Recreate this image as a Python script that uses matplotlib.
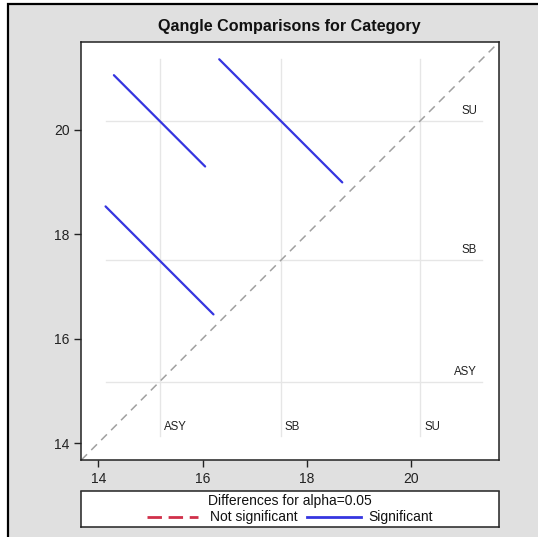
import matplotlib.pyplot as plt
from matplotlib.patches import Rectangle
from matplotlib.lines import Line2D

plt.rcParams['font.family'] = ['Liberation Sans', 'DejaVu Sans']

# LS-means per level (diffogram axes)
levels = ['ASY', 'SB', 'SU']
lsmeans = [15.175, 17.50, 20.175]

# pairwise comparisons: x level, y level, half-width of the CI segment
pair_x = ['ASY', 'SB', 'ASY']
pair_y = ['SU', 'SU', 'SB']
half_width = [0.875, 1.18, 1.035]
significant = [True, True, True]

axis_min, axis_max = 13.675, 21.68
x_ticks = [14, 16, 18, 20]
y_ticks = [14, 16, 18, 20]

W, H = 538, 537
fig = plt.figure(figsize=(W / 100, H / 100), dpi=100)
fig.patch.set_facecolor('white')
fig.patches.append(Rectangle((8 / W, -0.1), 1.2, 1.1 - 4.3 / H, transform=fig.transFigure,
                             facecolor='#E0E0E0', edgecolor='black', lw=1.6, zorder=-5))

fig.text(289.7 / W, 1 - 26 / H, 'Qangle Comparisons for Category', ha='center', va='center',
         fontsize=11.6, fontweight='bold', color='#111111')

ax = fig.add_axes([81.3 / W, 1 - 460 / H, 417.4 / W, 417.7 / H])
ax.set_facecolor('white')
ax.set_xlim(axis_min, axis_max)
ax.set_ylim(axis_min, axis_max)

mean_of = dict(zip(levels, lsmeans))

# segment ends -> extent of the reference lines
ends = []
for a, b, h in zip(pair_x, pair_y, half_width):
    ends += [mean_of[a] - h, mean_of[a] + h, mean_of[b] - h, mean_of[b] + h]
lo, hi = min(ends), max(ends)

for lev, m in zip(levels, lsmeans):
    ax.plot([m, m], [lo, hi], color='#E6E6E6', lw=1, zorder=1)
    ax.plot([lo, hi], [m, m], color='#E6E6E6', lw=1, zorder=1)
    ax.annotate(lev, xy=(m, 0.08), xycoords=('data', 'axes fraction'), xytext=(4, 0),
                textcoords='offset pixels', ha='left', va='center', fontsize=8.3, color='#222222')
    ax.annotate(lev, xy=(0.948, m), xycoords=('axes fraction', 'data'), xytext=(0, 10),
                textcoords='offset pixels', ha='right', va='center', fontsize=8.3, color='#222222')

ax.plot([axis_min, 21.6], [axis_min, 21.6], color='#A0A0A0', lw=1.1, dashes=(5.3, 3.9), zorder=2)

for a, b, h, sig in zip(pair_x, pair_y, half_width, significant):
    xa, yb = mean_of[a], mean_of[b]
    ax.plot([xa - h, xa + h], [yb + h, yb - h], color='#3535E0' if sig else '#D0304A',
            lw=1.6, solid_capstyle='round', zorder=3,
            dashes=() if sig else (5.2, 2.4))

ax.set_xticks(x_ticks)
ax.set_yticks(y_ticks)
ax.tick_params(direction='out', length=5, width=1, pad=3.5, labelsize=10, colors='#222222')
for s in ax.spines.values():
    s.set_color('#222222')
    s.set_linewidth(1.1)

# legend box
lg = fig.add_axes([81.3 / W, 1 - 527.3 / H, 417.4 / W, 35.8 / H])
lg.set_xlim(0, 417.4)
lg.set_ylim(35.8, 0)
lg.set_xticks([])
lg.set_yticks([])
lg.set_facecolor('white')
for s in lg.spines.values():
    s.set_color('#222222')
    s.set_linewidth(1.1)
lg.text(208.4, 9.4, 'Differences for alpha=0.05', ha='center', va='center', fontsize=10, color='#111111')
lg.add_line(Line2D([66, 117], [25.8, 25.8], color='#D0304A', lw=2, dashes=(5.2, 2.4)))
lg.text(128.7, 25.8, 'Not significant', ha='left', va='center', fontsize=10, color='#111111')
lg.add_line(Line2D([225.4, 279.4], [25.8, 25.8], color='#3535E0', lw=2))
lg.text(287, 25.8, 'Significant', ha='left', va='center', fontsize=10, color='#111111')

fig.savefig('out.png', dpi=100)
